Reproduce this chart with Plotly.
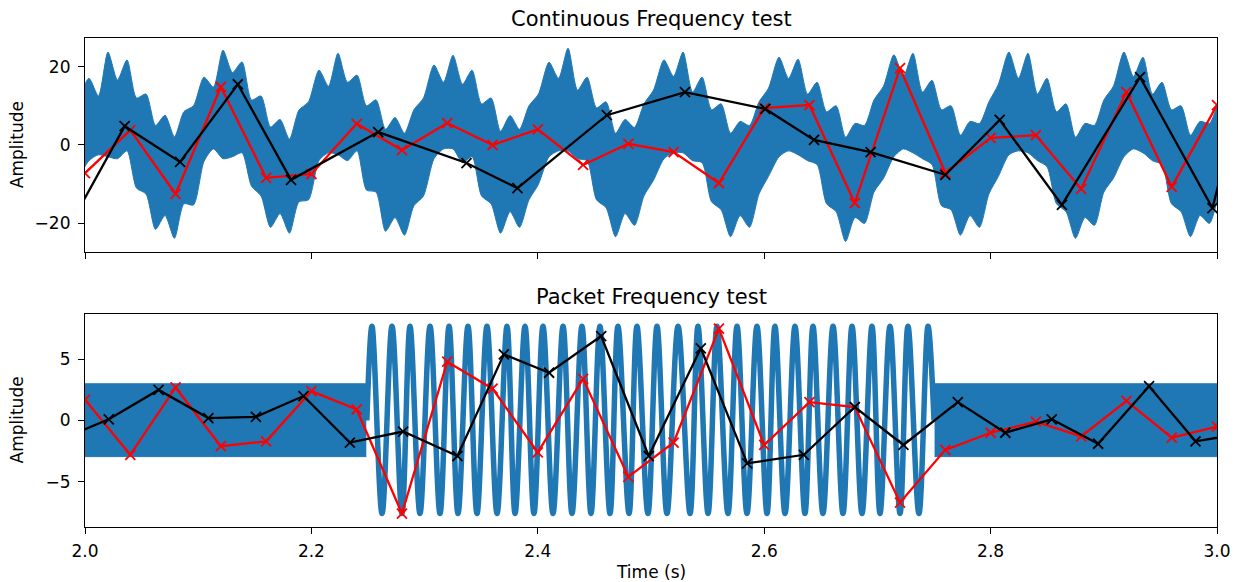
import plotly.graph_objects as go

# ---------------- data ----------------
# Top panel: sampled series
red_top_t = [2.00, 2.04, 2.08, 2.12, 2.16, 2.20, 2.24, 2.28, 2.32, 2.36, 2.40, 2.44, 2.48,
             2.52, 2.56, 2.60, 2.64, 2.68, 2.72, 2.76, 2.80, 2.84, 2.88, 2.92, 2.96, 3.00]
red_top_v = [-7.2, 3.8, -12.5, 14.8, -8.4, -7.4, 5.4, -1.3, 5.6, 0.0, 4.0, -5.1, 0.3,
             -1.8, -9.7, 9.4, 10.2, -14.8, 19.6, -7.1, 1.8, 2.5, -11.2, 13.5, -10.7, 10.2]

black_top_t = [1.990, 2.035, 2.084, 2.135, 2.182, 2.259, 2.337, 2.382, 2.461, 2.530, 2.601,
               2.644, 2.694, 2.760, 2.808, 2.863, 2.932, 2.996, 3.010]
black_top_v = [-18.7, 4.8, -4.3, 15.5, -8.9, 3.3, -4.6, -11.0, 7.6, 13.5, 9.2,
               1.3, -1.8, -7.6, 6.4, -15.3, 17.3, -16.1, 0.0]

# Top panel: envelope of the dense blue signal
blue_top_t = [1.9950,
    2.0035, 2.0119, 2.0203, 2.0287, 2.0371, 2.0455, 2.0539, 2.0623, 2.0707, 2.0790, 2.0874, 2.0958,
    2.1051, 2.1135, 2.1219, 2.1303, 2.1387, 2.1471, 2.1555, 2.1639, 2.1723, 2.1806, 2.1890, 2.1974,
    2.2067, 2.2151, 2.2235, 2.2319, 2.2403, 2.2487, 2.2571, 2.2655, 2.2739, 2.2822, 2.2906, 2.2990,
    2.3083, 2.3167, 2.3251, 2.3335, 2.3419, 2.3503, 2.3587, 2.3671, 2.3755, 2.3838, 2.3922, 2.4006,
    2.4099, 2.4183, 2.4267, 2.4351, 2.4435, 2.4519, 2.4603, 2.4687, 2.4771, 2.4854, 2.4938, 2.5022,
    2.5115, 2.5199, 2.5283, 2.5367, 2.5451, 2.5535, 2.5619, 2.5703, 2.5787, 2.5870, 2.5954, 2.6038,
    2.6131, 2.6215, 2.6299, 2.6383, 2.6467, 2.6551, 2.6635, 2.6719, 2.6803, 2.6886, 2.6970, 2.7054,
    2.7146, 2.7230, 2.7314, 2.7398, 2.7482, 2.7566, 2.7650, 2.7734, 2.7818, 2.7901, 2.7985, 2.8069,
    2.8162, 2.8246, 2.8330, 2.8414, 2.8498, 2.8582, 2.8666, 2.8750, 2.8834, 2.8917, 2.9001, 2.9085,
    2.9178, 2.9262, 2.9346, 2.9430, 2.9514, 2.9598, 2.9682, 2.9766, 2.9850, 2.9933, 3.0017, 3.0101]
blue_top_upper = [12.0,
    17.0, 12.5, 23.7, 16.6, 21.7, 12.0, 13.0, 5.0, 7.6, 2.1, 8.5, 10.0,
    17.3, 14.8, 24.2, 18.5, 21.2, 11.5, 12.5, 4.6, 6.5, 1.5, 8.9, 11.0,
    19.1, 15.0, 23.4, 16.0, 17.8, 10.0, 11.5, 4.0, 7.0, 3.0, 9.0, 12.0,
    20.4, 16.0, 22.9, 15.5, 19.1, 10.5, 12.0, 3.5, 7.5, 4.0, 10.0, 13.0,
    21.1, 17.0, 24.7, 14.0, 17.3, 9.5, 11.0, 3.0, 6.5, 4.5, 10.5, 14.0,
    21.7, 17.5, 23.7, 13.5, 17.3, 9.0, 10.5, 3.0, 6.0, 5.0, 11.0, 14.5,
    22.4, 17.0, 21.9, 13.0, 16.0, 8.5, 10.0, 2.0, 5.5, 5.0, 11.5, 15.0,
    23.0, 17.5, 23.4, 13.5, 16.5, 9.0, 10.0, 2.5, 6.0, 5.5, 11.0, 15.5,
    23.7, 17.0, 23.4, 13.0, 17.0, 8.5, 10.5, 2.0, 5.5, 5.0, 11.5, 15.0,
    23.7, 17.5, 22.4, 13.0, 16.0, 9.0, 10.0, 2.5, 6.0, 5.5, 11.0, 15.0]
blue_top_lower = [-8.0,
    -4.0, -2.5, -3.0, -3.5, -1.5, -11.0, -12.5, -21.5, -18.0, -23.8, -15.0, -15.3,
    -4.2, -1.0, -3.5, -3.0, -2.0, -10.5, -13.0, -21.0, -17.5, -22.5, -14.5, -14.0,
    -4.0, -2.0, -2.5, -4.0, -1.5, -11.5, -12.0, -22.0, -18.5, -23.0, -15.5, -13.0,
    -3.5, -1.0, -1.0, -4.5, -3.0, -13.0, -15.0, -22.5, -17.0, -21.0, -14.0, -10.0,
    -3.0, -1.5, -1.5, -3.5, -4.0, -14.0, -16.0, -23.4, -17.5, -20.5, -13.0, -9.0,
    -3.5, -2.0, -2.0, -4.0, -4.5, -14.5, -16.5, -23.4, -18.0, -21.0, -12.5, -8.0,
    -3.0, -1.5, -2.5, -4.0, -5.0, -15.0, -17.0, -24.6, -18.5, -20.0, -12.0, -8.5,
    -3.0, -1.0, -2.0, -3.5, -5.0, -15.5, -16.5, -23.0, -18.0, -21.0, -12.5, -8.0,
    -2.5, -1.5, -2.0, -4.0, -5.5, -15.0, -17.0, -23.8, -18.5, -20.5, -12.0, -8.5,
    -3.0, -1.0, -2.0, -4.0, -5.0, -15.0, -17.0, -23.4, -18.0, -20.0, -13.0, -9.0]

# Bottom panel: sampled series
red_bot_t = red_top_t
red_bot_v = [1.7, -2.8, 2.7, -2.1, -1.7, 2.4, 0.9, -7.6, 4.8, 2.6, -2.6, 3.4, -4.6,
             -1.8, 7.5, -2.0, 1.5, 1.1, -6.7, -2.4, -1.0, -0.1, -1.3, 1.6, -1.4, -0.5]

black_bot_t = [1.990, 2.021, 2.065, 2.109, 2.151, 2.193, 2.234, 2.281, 2.329, 2.370, 2.410,
               2.456, 2.498, 2.544, 2.585, 2.635, 2.680, 2.723, 2.771, 2.813, 2.854, 2.895,
               2.940, 2.981, 3.020]
black_bot_v = [-1.1, 0.1, 2.5, 0.2, 0.3, 2.0, -1.8, -0.9, -2.9, 5.4, 3.9,
               6.9, -2.9, 5.9, -3.5, -2.8, 1.1, -2.0, 1.5, -1.0, 0.1, -1.9,
               2.8, -1.7, -1.1]

# Bottom panel: dense blue signal -- background band before / after the packet
band_left_t = [2.0, 2.2485]
band_right_t = [2.7505, 3.0]
band_upper = [3.0, 3.0]
band_lower = [-2.95, -2.95]

# Bottom panel: packet oscillation (peaks and troughs)
packet_start = (2.2490, 0.0)
packet_end = (2.7500, 0.0)
packet_peak_t = [2.2535, 2.2712, 2.2871, 2.3048, 2.3216, 2.3383, 2.3551, 2.3728, 2.3887, 2.4046,
                 2.4223, 2.4390, 2.4549, 2.4708, 2.4876, 2.5053, 2.5239, 2.5415, 2.5583, 2.5760,
                 2.5936, 2.6095, 2.6272, 2.6431, 2.6608, 2.6776, 2.6952, 2.7111, 2.7270, 2.7447]
packet_peak_v = [7.7] * 30
packet_trough_t = [2.2624, 2.2800, 2.2959, 2.3136, 2.3295, 2.3463, 2.3640, 2.3799, 2.3966, 2.4134,
                   2.4302, 2.4470, 2.4638, 2.4806, 2.4973, 2.5141, 2.5345, 2.5504, 2.5680, 2.5848,
                   2.6025, 2.6184, 2.6360, 2.6519, 2.6696, 2.6864, 2.7023, 2.7200, 2.7367]
packet_trough_v = [-7.6] * 29

x_ticks = [2.0, 2.2, 2.4, 2.6, 2.8, 3.0]
top_y_ticks = [-20, 0, 20]
bot_y_ticks = [-5, 0, 5]

# ---------------- styling ----------------
BLUE = "#1f77b4"
FONT = "DejaVu Sans"
TICK_SIZE = 17
LABEL_SIZE = 17
TITLE_SIZE = 21

pk = sorted([packet_start] + list(zip(packet_peak_t, packet_peak_v))
            + list(zip(packet_trough_t, packet_trough_v)) + [packet_end])
packet_t = [p[0] for p in pk]
packet_v = [p[1] for p in pk]

fig = go.Figure()

# top blue band
fig.add_trace(go.Scatter(x=blue_top_t, y=blue_top_lower, mode="lines",
                         line=dict(color=BLUE, width=1, shape="spline", smoothing=0.7),
                         xaxis="x", yaxis="y", hoverinfo="skip", showlegend=False))
fig.add_trace(go.Scatter(x=blue_top_t, y=blue_top_upper, mode="lines", fill="tonexty",
                         fillcolor=BLUE,
                         line=dict(color=BLUE, width=1, shape="spline", smoothing=0.7),
                         xaxis="x", yaxis="y", hoverinfo="skip", showlegend=False))

# bottom blue bands
for bt in (band_left_t, band_right_t):
    fig.add_trace(go.Scatter(x=bt, y=band_lower, mode="lines", line=dict(color=BLUE, width=1),
                             xaxis="x2", yaxis="y2", hoverinfo="skip", showlegend=False))
    fig.add_trace(go.Scatter(x=bt, y=band_upper, mode="lines", fill="tonexty", fillcolor=BLUE,
                             line=dict(color=BLUE, width=1), xaxis="x2", yaxis="y2",
                             hoverinfo="skip", showlegend=False))

fig.add_trace(go.Scatter(x=packet_t, y=packet_v, mode="lines",
                         line=dict(color=BLUE, width=5.5, shape="spline", smoothing=1.0),
                         xaxis="x2", yaxis="y2", hoverinfo="skip", showlegend=False))

for xs, ys, col, ax, ay in [
    (red_top_t, red_top_v, "red", "x", "y"),
    (black_top_t, black_top_v, "black", "x", "y"),
    (red_bot_t, red_bot_v, "red", "x2", "y2"),
    (black_bot_t, black_bot_v, "black", "x2", "y2"),
]:
    fig.add_trace(go.Scatter(x=xs, y=ys, mode="lines+markers",
                             line=dict(color=col, width=2.3),
                             marker=dict(symbol="x-thin", size=10, color=col,
                                         line=dict(width=1.8, color=col)),
                             xaxis=ax, yaxis=ay, showlegend=False))

axis_common = dict(showgrid=False, zeroline=False, showline=True, linecolor="black",
                   linewidth=1.2, mirror=True, ticks="outside", ticklen=6, tickwidth=1.2,
                   tickcolor="black", automargin=False,
                   tickfont=dict(family=FONT, size=TICK_SIZE, color="black"))

top_dom = [0.5624, 1.0]
bot_dom = [0.0, 0.4356]

fig.update_layout(
    width=1237, height=582,
    margin=dict(l=85, r=20, t=38, b=55),
    paper_bgcolor="white", plot_bgcolor="white",
    font=dict(family=FONT, size=TICK_SIZE, color="black"),
    xaxis=dict(domain=[0, 1], anchor="y", range=[2, 3], tickvals=x_ticks,
               showticklabels=False, **axis_common),
    yaxis=dict(domain=top_dom, anchor="x", range=[-27.3, 27.3], tickvals=top_y_ticks,
               ticklabelstandoff=4, **axis_common),
    xaxis2=dict(domain=[0, 1], anchor="y2", range=[2, 3], tickvals=x_ticks,
                tickformat=".1f", ticklabelstandoff=2, **axis_common),
    yaxis2=dict(domain=bot_dom, anchor="x2", range=[-8.7, 8.7], tickvals=bot_y_ticks,
                ticklabelstandoff=4, **axis_common),
    annotations=[
        dict(text="Continuous Frequency test", x=0.5, y=1.039, xref="paper", yref="paper",
             showarrow=False, font=dict(family=FONT, size=TITLE_SIZE, color="black"),
             xanchor="center", yanchor="middle"),
        dict(text="Packet Frequency test", x=0.5, y=0.470, xref="paper", yref="paper",
             showarrow=False, font=dict(family=FONT, size=TITLE_SIZE, color="black"),
             xanchor="center", yanchor="middle"),
        dict(text="Time (s)", x=0.5, y=-0.092, xref="paper", yref="paper",
             showarrow=False, font=dict(family=FONT, size=LABEL_SIZE, color="black"),
             xanchor="center", yanchor="middle"),
        dict(text="Amplitude", x=-0.060, y=0.781, xref="paper", yref="paper", textangle=-90,
             showarrow=False, font=dict(family=FONT, size=LABEL_SIZE, color="black"),
             xanchor="center", yanchor="middle"),
        dict(text="Amplitude", x=-0.060, y=0.218, xref="paper", yref="paper", textangle=-90,
             showarrow=False, font=dict(family=FONT, size=LABEL_SIZE, color="black"),
             xanchor="center", yanchor="middle"),
    ],
)

fig.write_html("out.html")
